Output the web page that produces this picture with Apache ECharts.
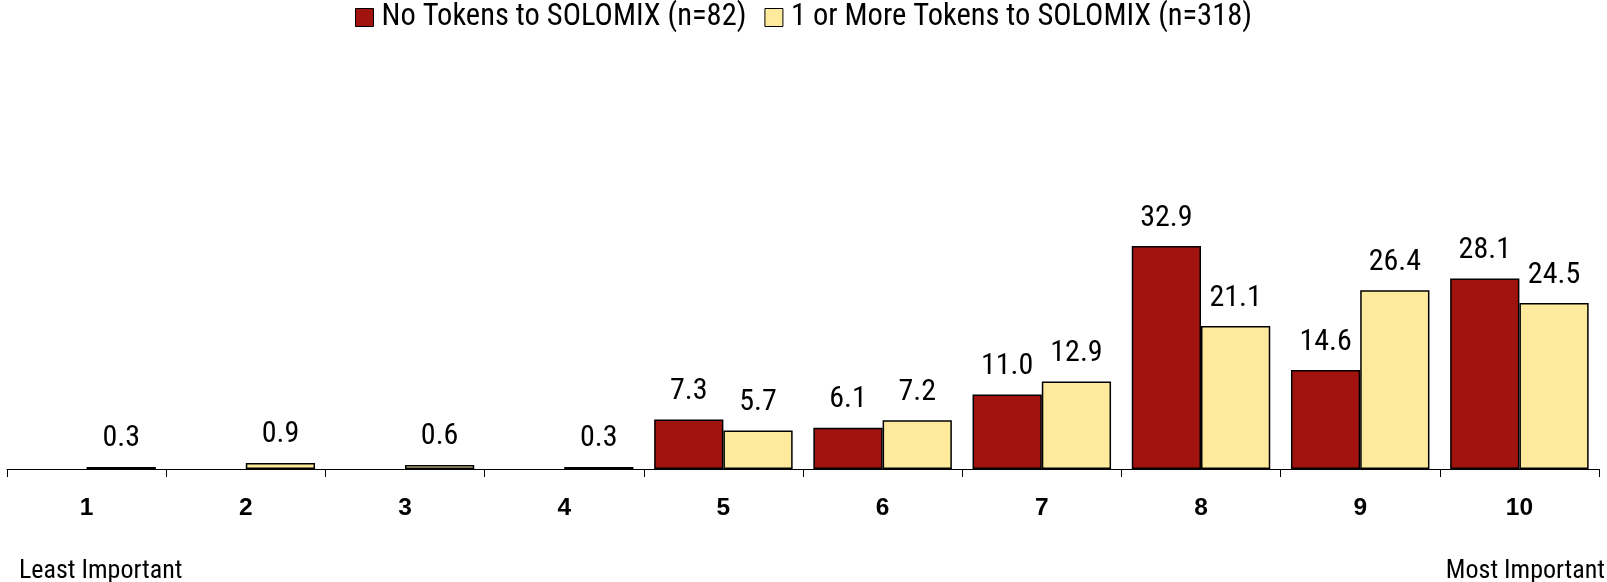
<!DOCTYPE html>
<html>
<head>
<meta charset="utf-8">
<script src="https://cdn.jsdelivr.net/npm/echarts@6/dist/echarts.min.js"></script>
<style>html,body{margin:0;padding:0;background:#fff;}#c{width:1607px;height:582px;}</style>
</head>
<body>
<div id="c"></div>
<script>
var categories = ['1','2','3','4','5','6','7','8','9','10'];
var seriesNames = ['No Tokens to SOLOMIX (n=82)', '1 or More Tokens to SOLOMIX (n=318)'];
var noTokens = [null, null, null, null, 7.3, 6.1, 11.0, 32.9, 14.6, 28.1];
var oneOrMore = [0.3, 0.9, 0.6, 0.3, 5.7, 7.2, 12.9, 21.1, 26.4, 24.5];
var leftEndLabel = 'Least Important';
var rightEndLabel = 'Most Important';

var narrow = "'Roboto Condensed', 'Liberation Sans Narrow', sans-serif";
var chart = echarts.init(document.getElementById('c'), null, {renderer: 'canvas'});
var labelCfg = {
  show: true, position: 'top', distance: 13,
  fontFamily: narrow, fontSize: 30, color: '#000',
  formatter: function (p) { return p.value == null ? '' : p.value.toFixed(1); }
};
chart.setOption({
  animation: false,
  backgroundColor: '#fff',
  legend: {
    top: 2, left: 'center', padding: 0, itemWidth: 18, itemHeight: 18, itemGap: 18,
    icon: 'rect',
    itemStyle: {borderColor: '#000', borderWidth: 1},
    textStyle: {fontFamily: narrow, fontSize: 30.5, color: '#000', padding: [0, 0, 0, 3]},
    data: seriesNames
  },
  grid: {left: 7, right: 8, top: 198, bottom: 113, containLabel: false},
  xAxis: {
    type: 'category', data: categories,
    axisLine: {lineStyle: {color: '#000', width: 1}},
    axisTick: {show: true, length: 8, lineStyle: {color: '#000'}},
    axisLabel: {margin: 27, fontFamily: "'Liberation Sans', Arial, sans-serif", fontWeight: 'bold', fontSize: 24.5, color: '#000'}
  },
  yAxis: {type: 'value', min: 0, max: 40, show: false, splitLine: {show: false}},
  series: [
    {name: seriesNames[0], type: 'bar', data: noTokens, barGap: '0%', barCategoryGap: '13%',
     itemStyle: {color: '#A0130F', borderColor: '#000', borderWidth: 1.5}, label: labelCfg},
    {name: seriesNames[1], type: 'bar', data: oneOrMore, barGap: '0%', barCategoryGap: '13%',
     itemStyle: {color: '#FEEA9C', borderColor: '#000', borderWidth: 1.5}, label: labelCfg}
  ],
  graphic: [
    {type: 'text', left: 19, top: 558, style: {text: leftEndLabel, font: "26px " + narrow, fill: '#000'}},
    {type: 'text', right: 2, top: 558, style: {text: rightEndLabel, font: "26px " + narrow, fill: '#000'}}
  ]
});
</script>
</body>
</html>
